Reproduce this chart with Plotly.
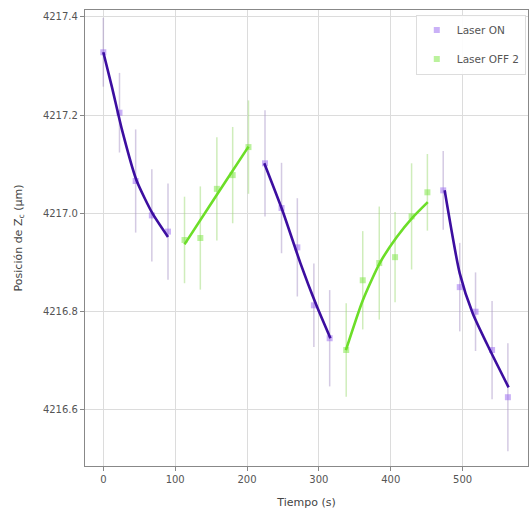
import plotly.graph_objects as go

# Measured positions (time in s, Z_c in µm) with their uncertainties
t_on1 = [0, 22.5, 45, 67.5, 90]
z_on1 = [4217.328, 4217.205, 4217.066, 4216.996, 4216.963]
e_on1 = [0.07, 0.081, 0.105, 0.094, 0.098]

t_off1 = [113, 135, 158, 180, 202]
z_off1 = [4216.946, 4216.950, 4217.050, 4217.078, 4217.135]
e_off1 = [0.088, 0.105, 0.105, 0.098, 0.095]

t_on2 = [225, 248, 270, 293, 315]
z_on2 = [4217.102, 4217.011, 4216.931, 4216.813, 4216.746]
e_on2 = [0.108, 0.092, 0.100, 0.085, 0.098]

t_off2 = [338, 361, 384, 406, 429, 451]
z_off2 = [4216.722, 4216.864, 4216.899, 4216.911, 4216.994, 4217.043]
e_off2 = [0.095, 0.100, 0.115, 0.092, 0.108, 0.078]

t_on3 = [473, 496, 518, 541, 563]
z_on3 = [4217.047, 4216.850, 4216.800, 4216.722, 4216.626]
e_on3 = [0.080, 0.090, 0.080, 0.100, 0.110]

# Fitted curves for each interval
fit_on1_t = [0, 12, 26, 46, 68, 90]
fit_on1_z = [4217.328, 4217.257, 4217.170, 4217.068, 4217.001, 4216.952]
fit_off1_t = [113, 158, 202]
fit_off1_z = [4216.937, 4217.038, 4217.136]
fit_on2_t = [224, 250, 274, 296, 316]
fit_on2_z = [4217.102, 4217.003, 4216.900, 4216.815, 4216.746]
fit_off2_t = [337.6, 361, 384.7, 408.4, 430.6, 451.5]
fit_off2_z = [4216.722, 4216.823, 4216.899, 4216.952, 4216.992, 4217.023]
fit_on3_t = [475, 496, 514, 538, 564]
fit_on3_z = [4217.047, 4216.878, 4216.797, 4216.722, 4216.646]

ON_LINE = "rgb(60,14,160)"
ON_MARK = "rgba(150,100,240,0.5)"
ON_ERR = "rgba(170,150,200,0.5)"
OFF_LINE = "rgb(108,222,40)"
OFF_MARK = "rgba(120,230,60,0.5)"
OFF_ERR = "rgba(160,220,120,0.5)"

fig = go.Figure()

on_sets = [(t_on1, z_on1, e_on1), (t_on2, z_on2, e_on2), (t_on3, z_on3, e_on3)]
off_sets = [(t_off1, z_off1, e_off1), (t_off2, z_off2, e_off2)]

for i, (t, z, e) in enumerate(on_sets):
    fig.add_trace(go.Scatter(
        x=t, y=z, mode="markers", name="Laser ON", legendgroup="on",
        showlegend=(i == 0),
        marker=dict(color=ON_MARK, size=6, symbol="square"),
        error_y=dict(type="data", array=e, color=ON_ERR, thickness=1.5, width=0)))
for i, (t, z, e) in enumerate(off_sets):
    fig.add_trace(go.Scatter(
        x=t, y=z, mode="markers", name="Laser OFF 2", legendgroup="off",
        showlegend=(i == 0),
        marker=dict(color=OFF_MARK, size=6, symbol="square"),
        error_y=dict(type="data", array=e, color=OFF_ERR, thickness=1.5, width=0)))

for t, z in [(fit_on1_t, fit_on1_z), (fit_on2_t, fit_on2_z), (fit_on3_t, fit_on3_z)]:
    fig.add_trace(go.Scatter(x=t, y=z, mode="lines", showlegend=False,
                             line=dict(color=ON_LINE, width=2.6, shape="spline", smoothing=0.6)))
for t, z in [(fit_off1_t, fit_off1_z), (fit_off2_t, fit_off2_z)]:
    fig.add_trace(go.Scatter(x=t, y=z, mode="lines", showlegend=False,
                             line=dict(color=OFF_LINE, width=2.6, shape="spline", smoothing=0.6)))

axis_common = dict(
    showline=True, linecolor="#888", linewidth=1.2, mirror=True,
    showgrid=True, gridcolor="#dcdcdc", gridwidth=1,
    ticks="outside", ticklen=4, tickcolor="#888",
    tickfont=dict(family="DejaVu Sans", size=10, color="#555"),
    zeroline=False)

fig.update_layout(
    width=530, height=519,
    margin=dict(l=85, r=2, t=10, b=53),
    paper_bgcolor="white", plot_bgcolor="white",
    font=dict(family="DejaVu Sans", size=11, color="#444"),
    xaxis=dict(range=[-25.5, 591], tickvals=[0, 100, 200, 300, 400, 500],
               title=dict(text="Tiempo (s)", font=dict(size=11), standoff=14),
               **axis_common),
    yaxis=dict(range=[4216.486, 4217.414],
               tickvals=[4216.6, 4216.8, 4217.0, 4217.2, 4217.4],
               tickformat=".1f",
               title=dict(text="Posición de Z<sub>c</sub> (µm)", font=dict(size=11), standoff=18),
               **axis_common),
    legend=dict(x=0.995, y=0.99, xanchor="right", yanchor="top",
                bgcolor="rgba(255,255,255,0.9)", bordercolor="#ddd", borderwidth=1,
                font=dict(family="DejaVu Sans", size=10.5, color="#555")),
)

fig.write_html("out.html")
